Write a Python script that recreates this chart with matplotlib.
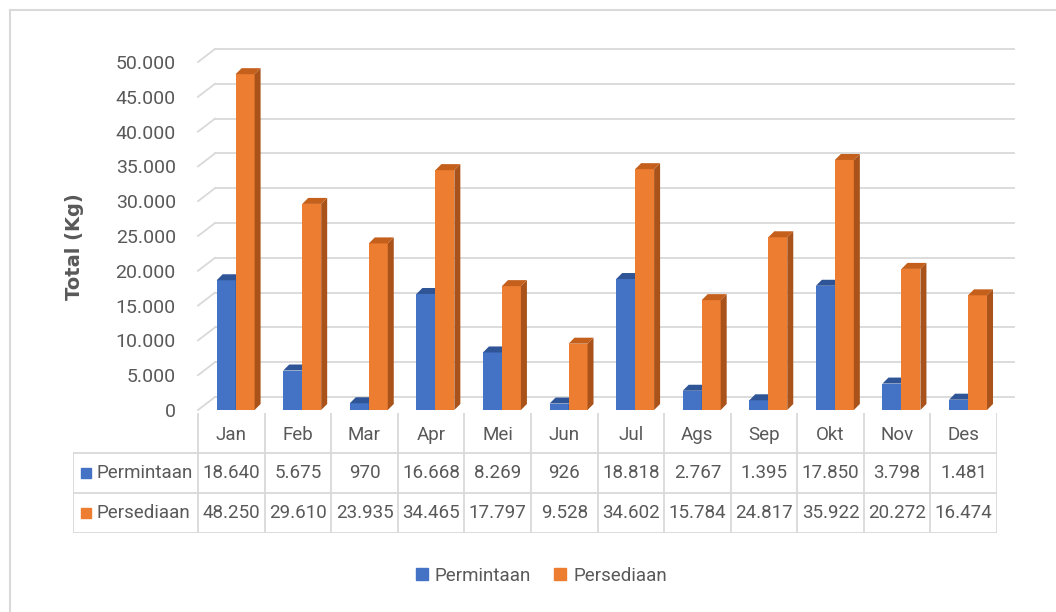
import matplotlib.pyplot as plt
from matplotlib.patches import Polygon, Rectangle
from matplotlib.lines import Line2D
import numpy as np

months = ["Jan", "Feb", "Mar", "Apr", "Mei", "Jun", "Jul", "Ags", "Sep", "Okt", "Nov", "Des"]
permintaan = [18640, 5675, 970, 16668, 8269, 926, 18818, 2767, 1395, 17850, 3798, 1481]
persediaan = [48250, 29610, 23935, 34465, 17797, 9528, 34602, 15784, 24817, 35922, 20272, 16474]
yticks = np.arange(0, 50001, 5000)


def fmt(v):
    return f"{v:,}".replace(",", ".")


plt.rcParams['font.family'] = ['Roboto', 'DejaVu Sans']
txt = '#595959'
grid = '#D9D9D9'
blue = ['#4472C4', '#2F5597', '#2F5597']      # front, top, side
orange = ['#ED7D31', '#C5601C', '#A9531A']

W, H = 1056, 612
fig = plt.figure(figsize=(W / 100, H / 100), dpi=100)

# outer chart border
fig.add_artist(Line2D([10 / W, 10 / W], [0, 1 - 10 / H], color=grid, lw=1.5))
fig.add_artist(Line2D([10 / W, 1], [1 - 10 / H, 1 - 10 / H], color=grid, lw=1.5))

ax = fig.add_axes([198 / W, 1 - 410 / H, 799 / W, 348 / H])
ax.set_xlim(0, 12)
ax.set_ylim(0, 50000)
for s in ax.spines.values():
    s.set_visible(False)
ax.set_xticks([])
ax.set_yticks(yticks, labels=[fmt(v) for v in yticks])
ax.tick_params(axis='y', length=0, pad=16, labelsize=14, labelcolor=txt)
ax.set_ylabel("Total (Kg)", fontsize=14, fontweight='bold', color=txt, family='DejaVu Sans')
ax.yaxis.set_label_coords(-0.143, 0.47)

# pixel -> data scale
sx = 12 / 799
sy = 50000 / 348
dx, dy = 17 * sx, 13 * sy          # wall depth
bdx, bdy = 6 * sx, 6 * sy          # bar depth

for v in yticks:
    ax.plot([dx, 12 + dx], [v + dy, v + dy], color=grid, lw=1.3, zorder=1, clip_on=False)
    ax.plot([0, dx], [v, v + dy], color=grid, lw=1.3, zorder=1, clip_on=False)


def bar3d(x0, w, h, cols):
    ax.add_patch(Rectangle((x0, 0), w, h, facecolor=cols[0], edgecolor='none', zorder=3, clip_on=False))
    ax.add_patch(Polygon([(x0, h), (x0 + w, h), (x0 + w + bdx, h + bdy), (x0 + bdx, h + bdy)],
                         closed=True, facecolor=cols[1], edgecolor='none', zorder=3, clip_on=False))
    ax.add_patch(Polygon([(x0 + w, 0), (x0 + w + bdx, bdy), (x0 + w + bdx, h + bdy), (x0 + w, h)],
                         closed=True, facecolor=cols[2], edgecolor='none', zorder=3, clip_on=False))


bw = 0.285
for i in range(len(months)):
    bar3d(i + 0.28, bw, permintaan[i], blue)
    bar3d(i + 0.28 + bw, bw, persediaan[i], orange)

# data table
tax = fig.add_axes([73 / W, 1 - 533 / H, 924 / W, 120 / H])
xl = -125 / 66.58
tax.set_xlim(xl, 12)
tax.set_ylim(0, 3)
tax.axis('off')
tax.vlines(range(13), 0, 3, color=grid, lw=1.3)
tax.vlines([xl], 0, 2, color=grid, lw=1.3)
tax.hlines([0, 1, 2], xl, 12, color=grid, lw=1.3)
for i, m in enumerate(months):
    tax.text(i + 0.5, 2.45, m, ha='center', va='center', fontsize=13.5, color=txt)
    tax.text(i + 0.5, 1.5, fmt(permintaan[i]), ha='center', va='center', fontsize=13.5, color=txt)
    tax.text(i + 0.5, 0.5, fmt(persediaan[i]), ha='center', va='center', fontsize=13.5, color=txt)
for yy, name, c in [(1.5, "Permintaan", blue[0]), (0.5, "Persediaan", orange[0])]:
    tax.plot([xl + 13 / 66.58], [yy], marker='s', ms=7, color=c, ls='none')
    tax.text(xl + 23 / 66.58, yy, name, ha='left', va='center', fontsize=13.5, color=txt)

handles = [Line2D([], [], marker='s', ms=8, ls='none', color=blue[0]),
           Line2D([], [], marker='s', ms=8, ls='none', color=orange[0])]
fig.legend(handles, ["Permintaan", "Persediaan"], loc='center', bbox_to_anchor=(541 / W, 1 - 576 / H),
           ncol=2, frameon=False, fontsize=13.5, labelcolor=txt, handlelength=0.7,
           handletextpad=0.35, columnspacing=1.2)

fig.savefig("out.png", dpi=100)
